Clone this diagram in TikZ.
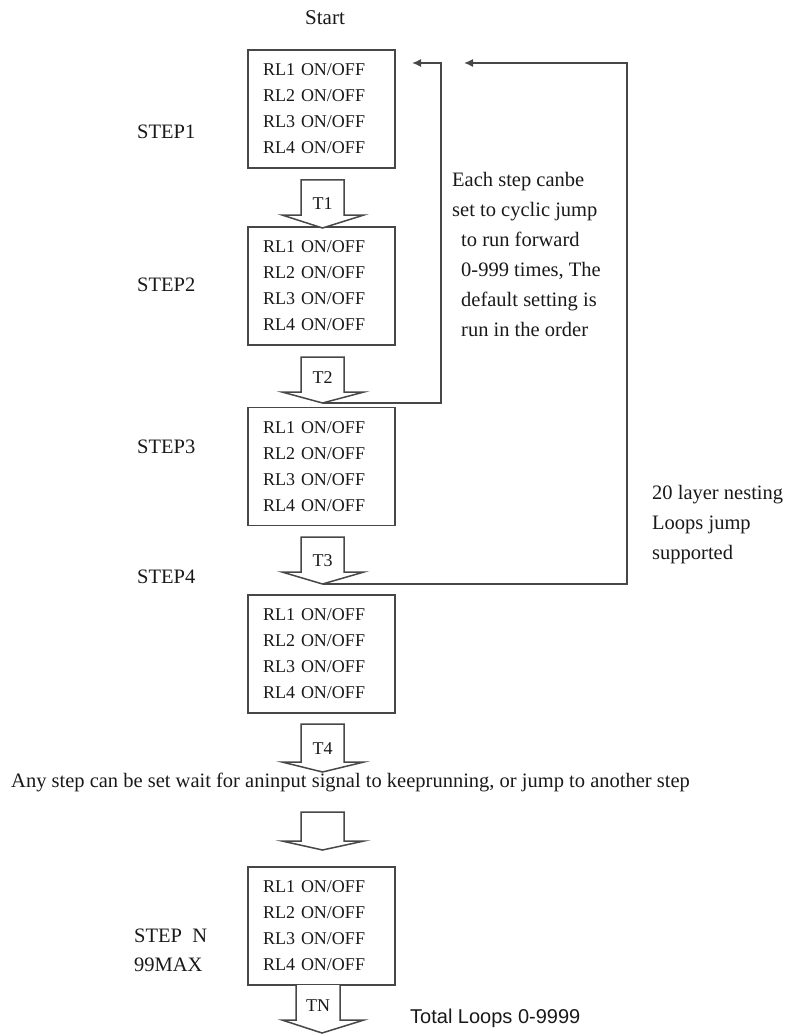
\documentclass[tikz,border=0pt]{standalone}
\usepackage{fontspec}
\setmainfont{Liberation Serif}
\newfontfamily\arialf{Liberation Sans}
\usetikzlibrary{arrows.meta}
\begin{document}
\begin{tikzpicture}[x=1pt,y=-1pt,
  ln/.style={draw=black!72, line width=1.5pt},
  box/.style={ln, minimum width=147pt, minimum height=118pt, inner xsep=15pt, inner ysep=0pt,
              text width=117pt, align=left, font=\fontsize{18}{26}\selectfont, text=black!90},
  lbl/.style={font=\fontsize{20.5}{30}\selectfont, text=black!90},
  tl/.style={font=\fontsize{18}{20}\selectfont, text=black!90, inner sep=0pt},
  blk/.style={ln, line join=miter, fill=white},
  loop/.style={ln, -{Latex[length=9pt,width=8pt]}}
]
\useasboundingbox (0,0) rectangle (785,1035);

% boxes
\node[box] (s1) at (321.5,109) {RL1 ON/OFF\\RL2 ON/OFF\\RL3 ON/OFF\\RL4 ON/OFF};
\node[box] (s2) at (321.5,286) {RL1 ON/OFF\\RL2 ON/OFF\\RL3 ON/OFF\\RL4 ON/OFF};
\node[box] (s3) at (321.5,466.5) {RL1 ON/OFF\\RL2 ON/OFF\\RL3 ON/OFF\\RL4 ON/OFF};
\node[box] (s4) at (321.5,654) {RL1 ON/OFF\\RL2 ON/OFF\\RL3 ON/OFF\\RL4 ON/OFF};
\node[box] (sn) at (321.5,926) {RL1 ON/OFF\\RL2 ON/OFF\\RL3 ON/OFF\\RL4 ON/OFF};

% block arrows
\draw[blk] (301,180) -- (301,215) -- (282,215) -- (322.5,228) -- (364,215) -- (344,215) -- (344,180) -- cycle;
\node[tl] (t1) at (322.5,204) {T1};
\draw[blk] (301,357) -- (301,392) -- (282,392) -- (322.5,403) -- (364,392) -- (344,392) -- (344,357) -- cycle;
\node[tl] (t2) at (322.5,378) {T2};
\draw[blk] (301,537) -- (301,572) -- (282,572) -- (322.5,584) -- (364,572) -- (344,572) -- (344,537) -- cycle;
\node[tl] (t3) at (322.5,561) {T3};
\draw[blk] (301,724) -- (301,762) -- (282,762) -- (322.5,772) -- (364,762) -- (344,762) -- (344,724) -- cycle;
\node[tl] (t4) at (322.5,749) {T4};
\draw[blk] (301,812) -- (301,841) -- (282,841) -- (322.5,850) -- (364,841) -- (344,841) -- (344,812) -- cycle;
\draw[blk] (296,985) -- (296,1020) -- (282,1020) -- (322,1033) -- (364,1020) -- (340,1020) -- (340,985);
\node[tl] (tn) at (318,1006) {TN};

% loop connectors
\coordinate (t2tip) at (322.5,403);
\coordinate (t3tip) at (322.5,584);
\coordinate (c1) at (441,63);
\coordinate (c2) at (627,63);
\coordinate (in1) at (412,63);
\coordinate (out1) at (464,63);
\draw[loop] (t2tip) -| (c1) -- (in1);
\draw[loop] (t3tip) -| (c2) -- (out1);

% labels
\node[lbl, font=\fontsize{21}{22}\selectfont] (start) at (325,18) {Start};
\node[lbl, anchor=west, inner sep=0pt] (l1) at (137,132) {STEP1};
\node[lbl, anchor=west, inner sep=0pt] (l2) at (137,285) {STEP2};
\node[lbl, anchor=west, inner sep=0pt] (l3) at (137,447) {STEP3};
\node[lbl, anchor=west, inner sep=0pt] (l4) at (137,577) {STEP4};
\node[lbl, anchor=west, inner sep=0pt] (ln1) at (134,936) {STEP\ \ N};
\node[lbl, anchor=west, inner sep=0pt] (ln2) at (134,965) {99MAX};

\node[lbl, anchor=west, inner sep=0pt, align=left] (note1) at (452,254.5)
  {Each step canbe\\set to cyclic jump\\\hspace*{9pt}to run forward\\\hspace*{9pt}0-999 times, The\\\hspace*{9pt}default setting is\\\hspace*{9pt}run in the order};
\node[lbl, anchor=west, inner sep=0pt, align=left] (note2) at (652,525)
  {20 layer nesting\\Loops jump\\supported};
\node[lbl, anchor=west, inner sep=0pt] (note3) at (11,782)
  {Any step can be set wait for aninput signal to keeprunning, or jump to another step};
\node[anchor=west, inner sep=0pt, font=\arialf\fontsize{20}{22}\selectfont, text=black!90] (note4) at (410,1018)
  {Total Loops 0-9999};
\end{tikzpicture}
\end{document}
